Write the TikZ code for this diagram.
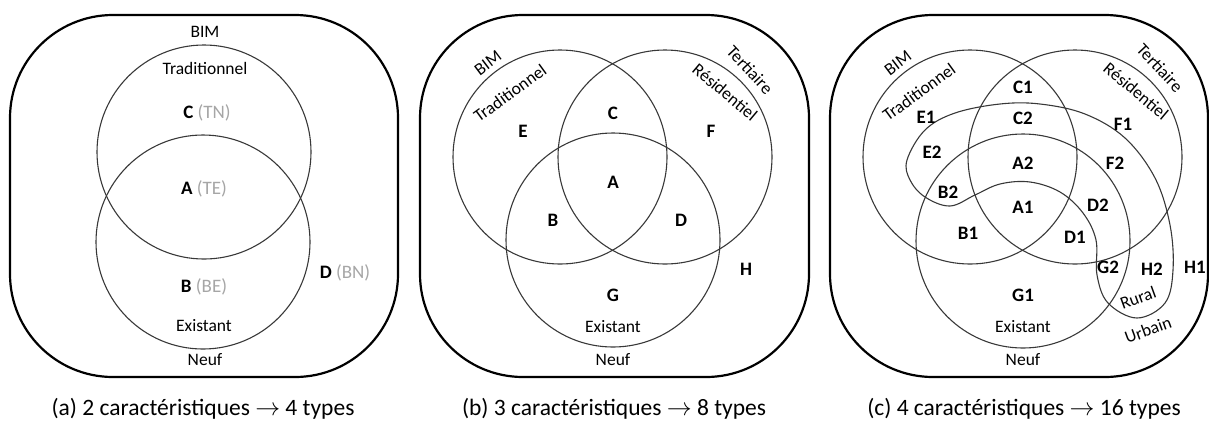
\documentclass[tikz,border=0pt]{standalone}
\usepackage{fontspec}
\setmainfont{Carlito}
\begin{document}
\begin{tikzpicture}[x=1pt,y=-1pt,
  frame/.style={draw=black, line width=2.2pt, rounded corners=103pt},
  venn/.style={draw=black!78, line width=1.1pt, circle, minimum size=214pt, inner sep=0pt},
  blobline/.style={draw=black!78, line width=1.1pt},
  lbl/.style={font=\fontsize{17.5}{20}\selectfont, inner sep=0pt},
  key/.style={font=\fontsize{19}{22}\selectfont\bfseries, inner sep=0pt},
  captxt/.style={font=\fontsize{23.5}{27}\selectfont, inner sep=0pt, anchor=base},
]
\colorlet{greytxt}{black!35}
\useasboundingbox (0,0) rectangle (1209,424);

% ---------- frames ----------
\draw[frame] (10,15) rectangle (398,377);
\draw[frame] (420,15) rectangle (809,377);
\draw[frame] (830,15) rectangle (1208,377);

% ---------- panel (a) ----------
\node[venn] (a-trad) at (204,152) {};
\node[venn] (a-exist) at (203,242) {};
\node[lbl] (a-bim) at (205,32) {BIM};
\node[lbl] (a-tradl) at (205,68) {Traditionnel};
\node[key] (a-c) at (207,113) {C \textmd{\color{greytxt}(TN)}};
\node[key] (a-a) at (204,189) {A \textmd{\color{greytxt}(TE)}};
\node[key] (a-b) at (204,287) {B \textmd{\color{greytxt}(BE)}};
\node[key] (a-d) at (345,273) {D \textmd{\color{greytxt}(BN)}};
\node[lbl] (a-existl) at (204,326) {Existant};
\node[lbl] (a-neuf) at (205,360) {Neuf};
\node[captxt] (a-cap) at (203,415) {(a) 2 caractéristiques $\rightarrow$ 4 types};

% ---------- panel (b) ----------
\node[venn] (b-trad) at (560,157) {};
\node[venn] (b-res) at (665,157) {};
\node[venn] (b-exist) at (613,240) {};
\node[lbl,rotate=37] (b-bim) at (488,63) {BIM};
\node[lbl,rotate=36] (b-tradl) at (510,93) {Traditionnel};
\node[lbl,rotate=-47] (b-tert) at (750,70) {Tertiaire};
\node[lbl,rotate=-40] (b-resl) at (725,92) {Résidentiel};
\node[key] (b-c) at (613,113) {C};
\node[key] (b-e) at (523,131) {E};
\node[key] (b-f) at (711,131) {F};
\node[key] (b-a) at (613,182) {A};
\node[key] (b-b) at (553,220) {B};
\node[key] (b-d) at (681,220) {D};
\node[key] (b-g) at (613,295) {G};
\node[key] (b-h) at (746,269) {H};
\node[lbl] (b-existl) at (613,327) {Existant};
\node[lbl] (b-neuf) at (613,360) {Neuf};
\node[captxt] (b-cap) at (614,415) {(b) 3 caractéristiques $\rightarrow$ 8 types};

% ---------- panel (c) ----------
\node[venn] (c-trad) at (970,157) {};
\node[venn] (c-res) at (1075,157) {};
\node[venn] (c-exist) at (1023,241) {};
\draw[blobline] plot[smooth cycle, tension=0.6] coordinates {
  (907,160) (925,130) (955,113) (1000,104) (1040,104) (1085,114)
  (1125,138) (1155,178) (1170,225) (1173,270) (1165,303) (1137,318)
  (1108,303) (1097,275) (1096,240) (1083,213) (1060,192) (1030,182)
  (1000,184) (975,195) (950,206) (925,197) (910,180)};
\node[lbl,rotate=37] (c-bim) at (898,63) {BIM};
\node[lbl,rotate=36] (c-tradl) at (919,92) {Traditionnel};
\node[lbl,rotate=-47] (c-tert) at (1160,68) {Tertiaire};
\node[lbl,rotate=-40] (c-resl) at (1136,91) {Résidentiel};
\node[key] (c-c1) at (1023,87) {C1};
\node[key] (c-c2) at (1023,118) {C2};
\node[key] (c-e1) at (926,117) {E1};
\node[key] (c-e2) at (932,152) {E2};
\node[key] (c-f1) at (1123,124) {F1};
\node[key] (c-f2) at (1115,163) {F2};
\node[key] (c-a2) at (1023,163) {A2};
\node[key] (c-b2) at (948,192) {B2};
\node[key] (c-a1) at (1023,207) {A1};
\node[key] (c-d2) at (1098,205) {D2};
\node[key] (c-b1) at (968,233) {B1};
\node[key] (c-d1) at (1075,237) {D1};
\node[key] (c-g2) at (1108,267) {G2};
\node[key] (c-h2) at (1152,269) {H2};
\node[key] (c-h1) at (1195,267) {H1};
\node[key] (c-g1) at (1023,295) {G1};
\node[lbl,rotate=20] (c-rural) at (1138,298) {Rural};
\node[lbl,rotate=20] (c-urbain) at (1148,330) {Urbain};
\node[lbl] (c-existl) at (1023,327) {Existant};
\node[lbl] (c-neuf) at (1023,360) {Neuf};
\node[captxt] (c-cap) at (1024,415) {(c) 4 caractéristiques $\rightarrow$ 16 types};
\end{tikzpicture}
\end{document}
